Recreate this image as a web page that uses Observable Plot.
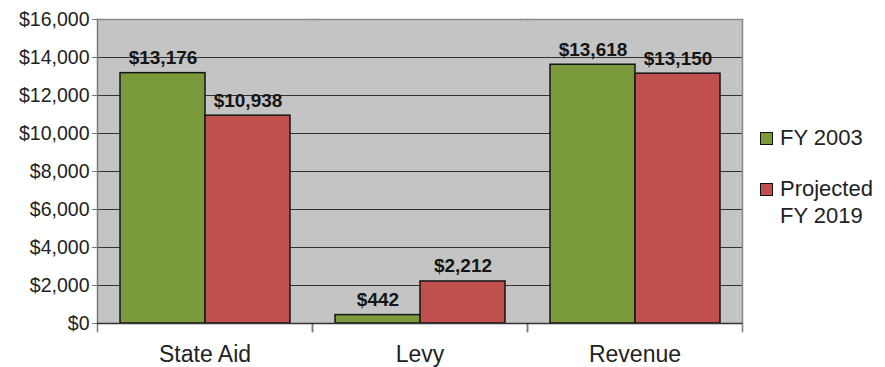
<!DOCTYPE html>
<html>
<head>
<meta charset="utf-8">
<script src="https://cdn.jsdelivr.net/npm/d3@7"></script>
<script src="https://cdn.jsdelivr.net/npm/@observablehq/plot@0.6"></script>
<style>
  html, body { margin: 0; padding: 0; background: #fff; }
  #wrap { position: relative; width: 885px; height: 367px; font-family: "Liberation Sans", Arial, Helvetica, sans-serif; }
  #legend { position: absolute; left: 760px; top: 124px; color: #222; font-size: 22px; line-height: 27px; }
  .item { position: relative; padding-left: 20px; margin-bottom: 24px; }
  .sw { position: absolute; left: 0; top: 8px; width: 11px; height: 11px; border: 1px solid #111; }
</style>
</head>
<body>
<div id="wrap"><div id="legend"></div></div>
<script>
// Revenue components, in dollars
const categories = ["State Aid", "Levy", "Revenue"];
const seriesNames = ["FY 2003", "Projected FY 2019"];
const fy2003 = [13176, 442, 13618];
const fy2019 = [10938, 2212, 13150];
const yTicks = [0, 2000, 4000, 6000, 8000, 10000, 12000, 14000, 16000];
const colors = ["#7a9a3c", "#c0504d"];
const legendLines = [["FY 2003"], ["Projected", "FY 2019"]];

const rows = categories.flatMap((c, i) => [
  {category: c, series: seriesNames[0], value: fy2003[i]},
  {category: c, series: seriesNames[1], value: fy2019[i]}
]);

const fmt = d3.format("$,");
const W = 885, H = 367, mT = 19, mB = 44, mL = 97, mR = 143;
const tickLen = 8;

const chart = Plot.plot({
  width: W,
  height: H,
  marginTop: mT,
  marginBottom: mB,
  marginLeft: mL,
  marginRight: mR,
  style: {fontFamily: "'Liberation Sans', Arial, Helvetica, sans-serif", color: "#222", background: "transparent"},
  fx: {domain: categories, padding: 0, label: null},
  x: {domain: seriesNames, paddingInner: 0, paddingOuter: 0.26, axis: null},
  y: {domain: [0, 16000], ticks: yTicks, label: null},
  color: {domain: seriesNames, range: colors},
  marks: [
    Plot.frame({fill: "#c4c4c4", stroke: "#c4c4c4", strokeWidth: 1}),
    Plot.gridY(yTicks, {stroke: "#333", strokeOpacity: 1, strokeWidth: 1.2}),
    Plot.frame({anchor: "top", stroke: "#8a8a8a", strokeWidth: 1.5}),
    Plot.frame({anchor: "left", facetAnchor: "left", stroke: "#7a7a7a", strokeWidth: 1.5}),
    Plot.frame({anchor: "right", facetAnchor: "right", stroke: "#8a8a8a", strokeWidth: 1.5}),
    // facet-edge tick marks; trimmed to hang below the baseline after render
    Plot.frame({anchor: "left", stroke: "#7a7a7a", strokeWidth: 1.5, ariaLabel: "edge-tick"}),
    Plot.frame({anchor: "right", stroke: "#7a7a7a", strokeWidth: 1.5, ariaLabel: "edge-tick"}),
    Plot.barY(rows, {fx: "category", x: "series", y: "value", fill: "series", stroke: "#141414", strokeWidth: 1.5}),
    Plot.ruleY([0], {stroke: "#333", strokeWidth: 1.5}),
    Plot.text(rows, {
      fx: "category", x: "series", y: "value",
      text: d => fmt(d.value),
      lineAnchor: "bottom", dy: -9,
      fontWeight: "bold", fontSize: 19, fill: "#151515"
    }),
    Plot.axisY({ticks: yTicks, tickFormat: fmt, tickSize: 5, tickPadding: 3, fontSize: 19.5, stroke: "#7a7a7a", label: null}),
    Plot.axisFx({anchor: "bottom", tickSize: 0, tickPadding: 22, fontSize: 23, label: null})
  ]
});

const baseY = H - mB;
d3.select(chart).selectAll('g[aria-label="edge-tick"] line')
  .attr("y1", baseY)
  .attr("y2", baseY + tickLen);

document.getElementById("wrap").prepend(chart);

const legend = document.getElementById("legend");
legendLines.forEach((lines, i) => {
  const item = document.createElement("div");
  item.className = "item";
  const sw = document.createElement("span");
  sw.className = "sw";
  sw.style.background = colors[i];
  item.appendChild(sw);
  lines.forEach(t => {
    const ln = document.createElement("div");
    ln.textContent = t;
    item.appendChild(ln);
  });
  legend.appendChild(item);
});
</script>
</body>
</html>
